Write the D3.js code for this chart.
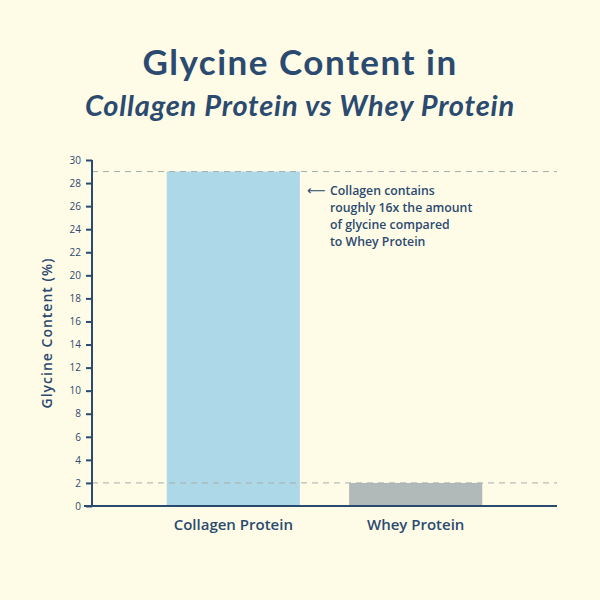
<!DOCTYPE html>
<html>
<head>
<meta charset="utf-8">
<script src="https://cdn.jsdelivr.net/npm/d3@7"></script>
<style>
  body { margin: 0; background: #fefbe7; }
  svg { display: block; }
</style>
</head>
<body>
<script>
const w = 600;
const h = 600;
const categories = ["Collagen Protein", "Whey Protein"];
const glycine = [29, 2];
const barColors = ["#add8e7", "#b1b9b9"];
const yTicks = d3.range(0, 31, 2);
const noteLines = ["Collagen contains", "roughly 16x the amount", "of glycine compared", "to Whey Protein"];

const ink = "#2b4a6f";
const font = "'Open Sans', Lato, sans-serif";

const svg = d3.select("body").append("svg").attr("width", w).attr("height", h)
  .style("background", "#fefbe7");

// titles
svg.append("text").text("Glycine Content in")
  .attr("x", 300).attr("y", 75).attr("text-anchor", "middle")
  .style("font-family", "Lato, sans-serif").style("font-weight", 700)
  .style("font-size", "35px").style("letter-spacing", "1.5px").style("fill", ink);
svg.append("text").text("Collagen Protein vs Whey Protein")
  .attr("x", 300).attr("y", 116).attr("text-anchor", "middle")
  .style("font-family", "Lato, sans-serif").style("font-style", "italic").style("font-weight", 700)
  .style("font-size", "29px").style("letter-spacing", "0.8px").style("fill", ink);

const x = d3.scaleBand().domain(categories).range([92, 557])
  .paddingInner(0.27).paddingOuter(0.41);
const y = d3.scaleLinear().domain([0, 30]).range([506, 160]);

// bars
svg.selectAll("rect.bar")
  .data(glycine)
  .enter()
  .append("rect")
  .attr("class", "bar")
  .attr("x", (d, i) => x(categories[i]))
  .attr("y", d => y(d))
  .attr("width", x.bandwidth())
  .attr("height", d => y(0) - y(d))
  .style("fill", (d, i) => barColors[i]);

// dashed reference lines at bar tops
svg.selectAll("line.ref")
  .data(glycine)
  .enter()
  .append("line")
  .attr("x1", 92).attr("x2", 557)
  .attr("y1", d => y(d)).attr("y2", d => y(d))
  .style("stroke", "#a7b0b0").style("stroke-width", 1)
  .style("stroke-dasharray", "6,5");

// y axis
const yAxis = svg.append("g").attr("transform", "translate(92,0)")
  .call(d3.axisLeft(y).tickValues(yTicks).tickSize(6).tickPadding(5));
yAxis.select(".domain").style("stroke", ink).style("stroke-width", 2)
  .attr("d", `M0,${y(30)}V${y(0)}`);
yAxis.selectAll(".tick line").style("stroke", ink).style("stroke-width", 2);
yAxis.selectAll(".tick text").style("font-family", font).style("font-size", "10px").style("fill", ink);

// x axis line
svg.append("line").attr("x1", 84).attr("x2", 557).attr("y1", y(0)).attr("y2", y(0))
  .style("stroke", ink).style("stroke-width", 2);

svg.selectAll("text.xlab")
  .data(categories)
  .enter()
  .append("text")
  .attr("class", "xlab")
  .text(d => d)
  .attr("x", d => x(d) + x.bandwidth() / 2)
  .attr("y", 530)
  .attr("text-anchor", "middle")
  .style("font-family", font).style("font-size", "15px").style("font-weight", 600)
  .style("fill", ink);

// y label
svg.append("text").text("Glycine Content (%)")
  .attr("transform", `translate(52,${(y(0) + y(30)) / 2}) rotate(-90)`)
  .attr("text-anchor", "middle")
  .style("font-family", font).style("font-size", "14px").style("font-weight", 600)
  .style("letter-spacing", "1px")
  .style("fill", ink);

// annotation
svg.append("text").text("\u27F5")
  .attr("x", 307).attr("y", 195)
  .style("font-family", "'DejaVu Sans', sans-serif").style("font-size", "13px").style("fill", ink);
svg.selectAll("text.note")
  .data(noteLines)
  .enter()
  .append("text")
  .attr("class", "note")
  .text(d => d)
  .attr("x", 330)
  .attr("y", (d, i) => 195 + i * 17)
  .style("font-family", font).style("font-size", "12.3px").style("font-weight", 600)
  .style("fill", ink);
</script>
</body>
</html>
